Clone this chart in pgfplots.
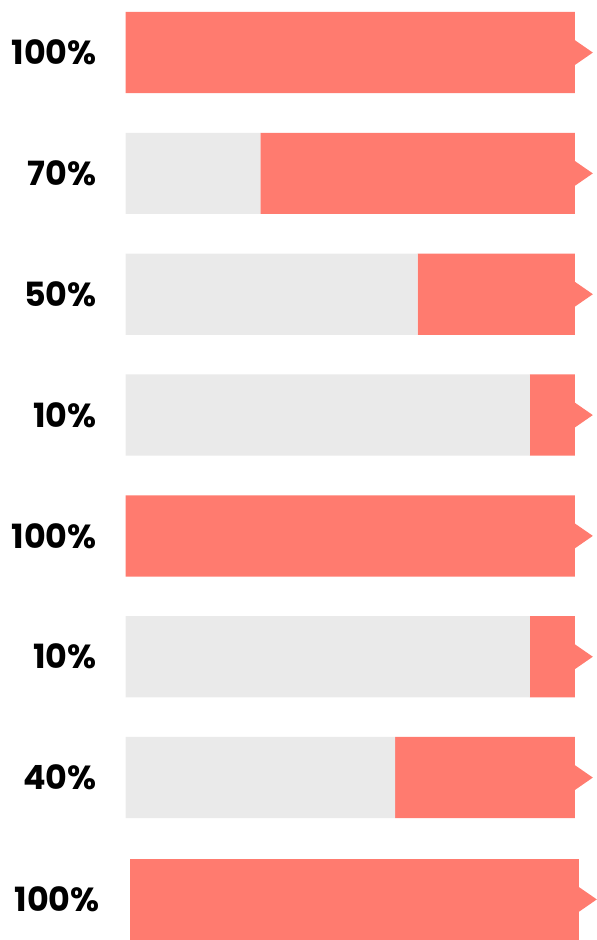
\documentclass[border=0pt]{standalone}
\usepackage{fontspec}
\setmainfont{Poppins}
\usepackage{pgfplots}
\pgfplotsset{compat=1.18}
\usepackage{pgfplotstable}
\definecolor{barred}{HTML}{FF7B6F}
\definecolor{bargrey}{HTML}{EAEAEA}
\tikzset{lab/.style={anchor=east, font=\fontsize{33.5}{38}\selectfont\bfseries, inner sep=0pt}}

% rows 0-6; the last row is drawn on its own (it sits a little to the right)
\pgfplotstableread{
row rest share
0 0 100
1 30 70
2 65 35
3 90 10
4 0 100
5 90 10
6 60 40
}\shares

\begin{document}
\begin{tikzpicture}
\begin{axis}[
    width=596pt, height=940pt, scale only axis,
    hide axis,
    xmin=-27.94, xmax=104.21,
    ymin=-0.435, ymax=7.315,
    y dir=reverse,
    xbar stacked,
    bar width=81.5pt,
    clip=false,
]
% keep the whole axis area as the picture's size
\path (rel axis cs:0,0) rectangle (rel axis cs:1,1);

\addplot[fill=bargrey, draw=none] table[x=rest, y=row] {\shares};
\addplot[fill=barred, draw=none] table[x=share, y=row] {\shares};
\addplot[stack plots=false, fill=barred, draw=none, xshift=4pt, yshift=-1pt] coordinates {(100,7)};

% arrow tips on the right end
\addplot[sharp plot, stack plots=false, fill=barred, draw=none] coordinates {(100,-0.103)(104,0)(100,0.103)} -- cycle;
\addplot[sharp plot, stack plots=false, fill=barred, draw=none] coordinates {(100,0.897)(104,1)(100,1.103)} -- cycle;
\addplot[sharp plot, stack plots=false, fill=barred, draw=none] coordinates {(100,1.897)(104,2)(100,2.103)} -- cycle;
\addplot[sharp plot, stack plots=false, fill=barred, draw=none] coordinates {(100,2.897)(104,3)(100,3.103)} -- cycle;
\addplot[sharp plot, stack plots=false, fill=barred, draw=none] coordinates {(100,3.897)(104,4)(100,4.103)} -- cycle;
\addplot[sharp plot, stack plots=false, fill=barred, draw=none] coordinates {(100,4.897)(104,5)(100,5.103)} -- cycle;
\addplot[sharp plot, stack plots=false, fill=barred, draw=none] coordinates {(100,5.897)(104,6)(100,6.103)} -- cycle;
\addplot[sharp plot, stack plots=false, fill=barred, draw=none, xshift=4pt, yshift=-1pt] coordinates {(100,6.897)(104,7)(100,7.103)} -- cycle;

\node[lab] at (axis cs:-6.4,0) {100\%};
\node[lab] at (axis cs:-6.4,1) {70\%};
\node[lab] at (axis cs:-6.4,2) {50\%};
\node[lab] at (axis cs:-6.4,3) {10\%};
\node[lab] at (axis cs:-6.4,4) {100\%};
\node[lab] at (axis cs:-6.4,5) {10\%};
\node[lab] at (axis cs:-6.4,6) {40\%};
\node[lab, xshift=3pt, yshift=-1pt] at (axis cs:-6.4,7) {100\%};
\end{axis}
\end{tikzpicture}
\end{document}
